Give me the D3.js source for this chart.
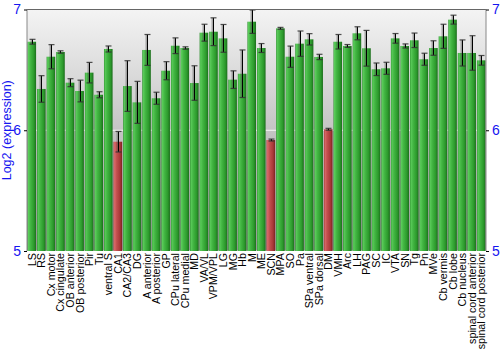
<!DOCTYPE html>
<html>
<head>
<meta charset="utf-8">
<script src="https://cdn.jsdelivr.net/npm/d3@7"></script>
<style>
  html, body { margin: 0; padding: 0; background: #fff; }
  svg { display: block; font-family: "Liberation Sans", Arial, sans-serif; }
</style>
</head>
<body>
<svg id="chart" width="500" height="350"></svg>
<script>
// Brain regions
const regions = ["LS","RS","Cx motor","Cx cingulate","OB anterior","OB posterior","Pir","Tu","ventral S","CA1",
  "CA2/CA3","DG","A anterior","A posterior","GP","CPu lateral","CPu medial","MD","VA/VL","VPM/VPL",
  "LG","MG","Hb","M","ME","SCN","MPA","SO","Pa","SPa ventral",
  "SPa dorsal","DM","VMH","Arc","LH","PAG","SC","IC","VTA","SN",
  "Tg","Pn","MVe","Cb vermis","Cb lobe","Cb nucleus","spinal cord anterior","spinal cord posterior"];

// Mean log2 expression per region
const means = [6.733,6.342,6.609,6.648,6.394,6.325,6.477,6.294,6.673,5.905,
  6.366,6.231,6.665,6.265,6.493,6.700,6.681,6.391,6.808,6.816,
  6.761,6.419,6.468,6.899,6.681,5.919,6.844,6.609,6.717,6.753,
  6.607,6.008,6.733,6.698,6.803,6.679,6.505,6.513,6.761,6.698,
  6.745,6.588,6.681,6.778,6.916,6.640,6.640,6.579];

// Standard error per region
const errors = [0.020,0.110,0.100,0.010,0.033,0.090,0.085,0.025,0.025,0.085,
  0.210,0.174,0.128,0.050,0.075,0.065,0.010,0.143,0.070,0.115,
  0.115,0.073,0.197,0.097,0.037,0.008,0.008,0.088,0.105,0.047,
  0.022,0.008,0.060,0.012,0.054,0.148,0.052,0.050,0.040,0.017,
  0.060,0.050,0.060,0.100,0.037,0.108,0.143,0.040];

// Regions with low expression, drawn in red
const lowRegions = ["CA1","SCN","DM"];

const yTicks = [5, 6, 7];
const yTitle = "Log2 (expression)";

const svg = d3.select("#chart");
const margin = { left: 27, right: 14, top: 9.5, bottom: 99 };
const W = 500, H = 350;
const x0 = margin.left, x1 = W - margin.right;
const y0 = H - margin.bottom, y1 = margin.top;

const x = d3.scaleBand().domain(regions).range([x0, x1]).paddingInner(0.1).paddingOuter(0.05);
const y = d3.scaleLinear().domain([5, 7]).range([y0, y1]);

const defs = svg.append("defs");
const bg = defs.append("linearGradient").attr("id", "bg").attr("x1", 0).attr("y1", 0).attr("x2", 0).attr("y2", 1);
bg.append("stop").attr("offset", "0%").attr("stop-color", "#f4f4f4");
bg.append("stop").attr("offset", "50%").attr("stop-color", "#c4c4c4");
bg.append("stop").attr("offset", "100%").attr("stop-color", "#9a9a9a");

function barGradient(id, stops) {
  const g = defs.append("linearGradient").attr("id", id).attr("x1", 0).attr("y1", 0).attr("x2", 1).attr("y2", 0);
  stops.forEach(([o, c]) => g.append("stop").attr("offset", o).attr("stop-color", c));
}
barGradient("green", [["0%", "#2f8f2f"], ["12%", "#5acb5a"], ["35%", "#44b744"], ["75%", "#2c9a2c"], ["100%", "#1c6e1c"]]);
barGradient("red", [["0%", "#9a3030"], ["12%", "#d86a6a"], ["35%", "#c45050"], ["75%", "#a83838"], ["100%", "#7a2222"]]);

// Plot background
svg.append("rect").attr("x", x0).attr("y", y1).attr("width", x1 - x0).attr("height", y0 - y1)
  .attr("fill", "url(#bg)");

// Grid lines
svg.append("g").selectAll("line").data(yTicks).join("line")
  .attr("x1", x0).attr("x2", x1).attr("y1", d => y(d)).attr("y2", d => y(d))
  .attr("stroke", "#ffffff").attr("stroke-width", 1).attr("opacity", 0.9);

// Bars
svg.append("g").selectAll("rect").data(regions).join("rect")
  .attr("x", d => x(d))
  .attr("width", x.bandwidth())
  .attr("y", (d, i) => y(means[i]))
  .attr("height", (d, i) => y(5) - y(means[i]))
  .attr("fill", d => lowRegions.includes(d) ? "url(#red)" : "url(#green)");

// Error bars: soft grey shadow plus black line
const eb = svg.append("g");
regions.forEach((d, i) => {
  const cx = Math.round(x(d) + x.bandwidth() / 2) + 0.5;
  const top = y(means[i] + errors[i]), bot = y(means[i] - errors[i]);
  eb.append("line").attr("x1", cx - 1).attr("x2", cx - 1).attr("y1", top).attr("y2", bot)
    .attr("stroke", "#555").attr("stroke-width", 2).attr("opacity", 0.45);
  eb.append("line").attr("x1", cx).attr("x2", cx).attr("y1", top).attr("y2", bot)
    .attr("stroke", "#000").attr("stroke-width", 1);
  [top, bot].forEach(v => {
    eb.append("line").attr("x1", cx - 3).attr("x2", cx + 3).attr("y1", v).attr("y2", v)
      .attr("stroke", "#333").attr("stroke-width", 1.2).attr("opacity", 0.85);
  });
});

// Frame
svg.append("line").attr("x1", x0).attr("x2", x1).attr("y1", y1).attr("y2", y1).attr("stroke", "#666");
svg.append("line").attr("x1", x0).attr("x2", x0).attr("y1", y1).attr("y2", y0).attr("stroke", "#888");
svg.append("line").attr("x1", x1).attr("x2", x1).attr("y1", y1).attr("y2", y0).attr("stroke", "#888");

// Axes
const left = svg.append("g").attr("transform", `translate(${x0},0)`)
  .call(d3.axisLeft(y).tickValues(yTicks).tickFormat(d3.format("d")).tickSize(3).tickPadding(3));
const right = svg.append("g").attr("transform", `translate(${x1},0)`)
  .call(d3.axisRight(y).tickValues(yTicks).tickFormat(d3.format("d")).tickSize(3).tickPadding(3));
[left, right].forEach(a => {
  a.select(".domain").remove();
  a.selectAll(".tick line").attr("stroke", "#000");
  a.selectAll(".tick text").attr("fill", "#1515f0").style("font-size", "14px")
    .style("font-family", "'Liberation Sans', Arial, sans-serif");
});

// Category labels
svg.append("g").selectAll("text").data(regions).join("text")
  .attr("transform", d => `translate(${x(d) + x.bandwidth() / 2 + 4},${y0 + 2}) rotate(-90)`)
  .attr("text-anchor", "end")
  .style("font-size", "10.7px")
  .attr("fill", "#000")
  .text(d => d);

// Y title
svg.append("text")
  .attr("transform", `translate(11,${(y0 + y1) / 2}) rotate(-90)`)
  .attr("text-anchor", "middle")
  .attr("fill", "#1515f0")
  .style("font-size", "12.5px")
  .text(yTitle);
</script>
</body>
</html>
